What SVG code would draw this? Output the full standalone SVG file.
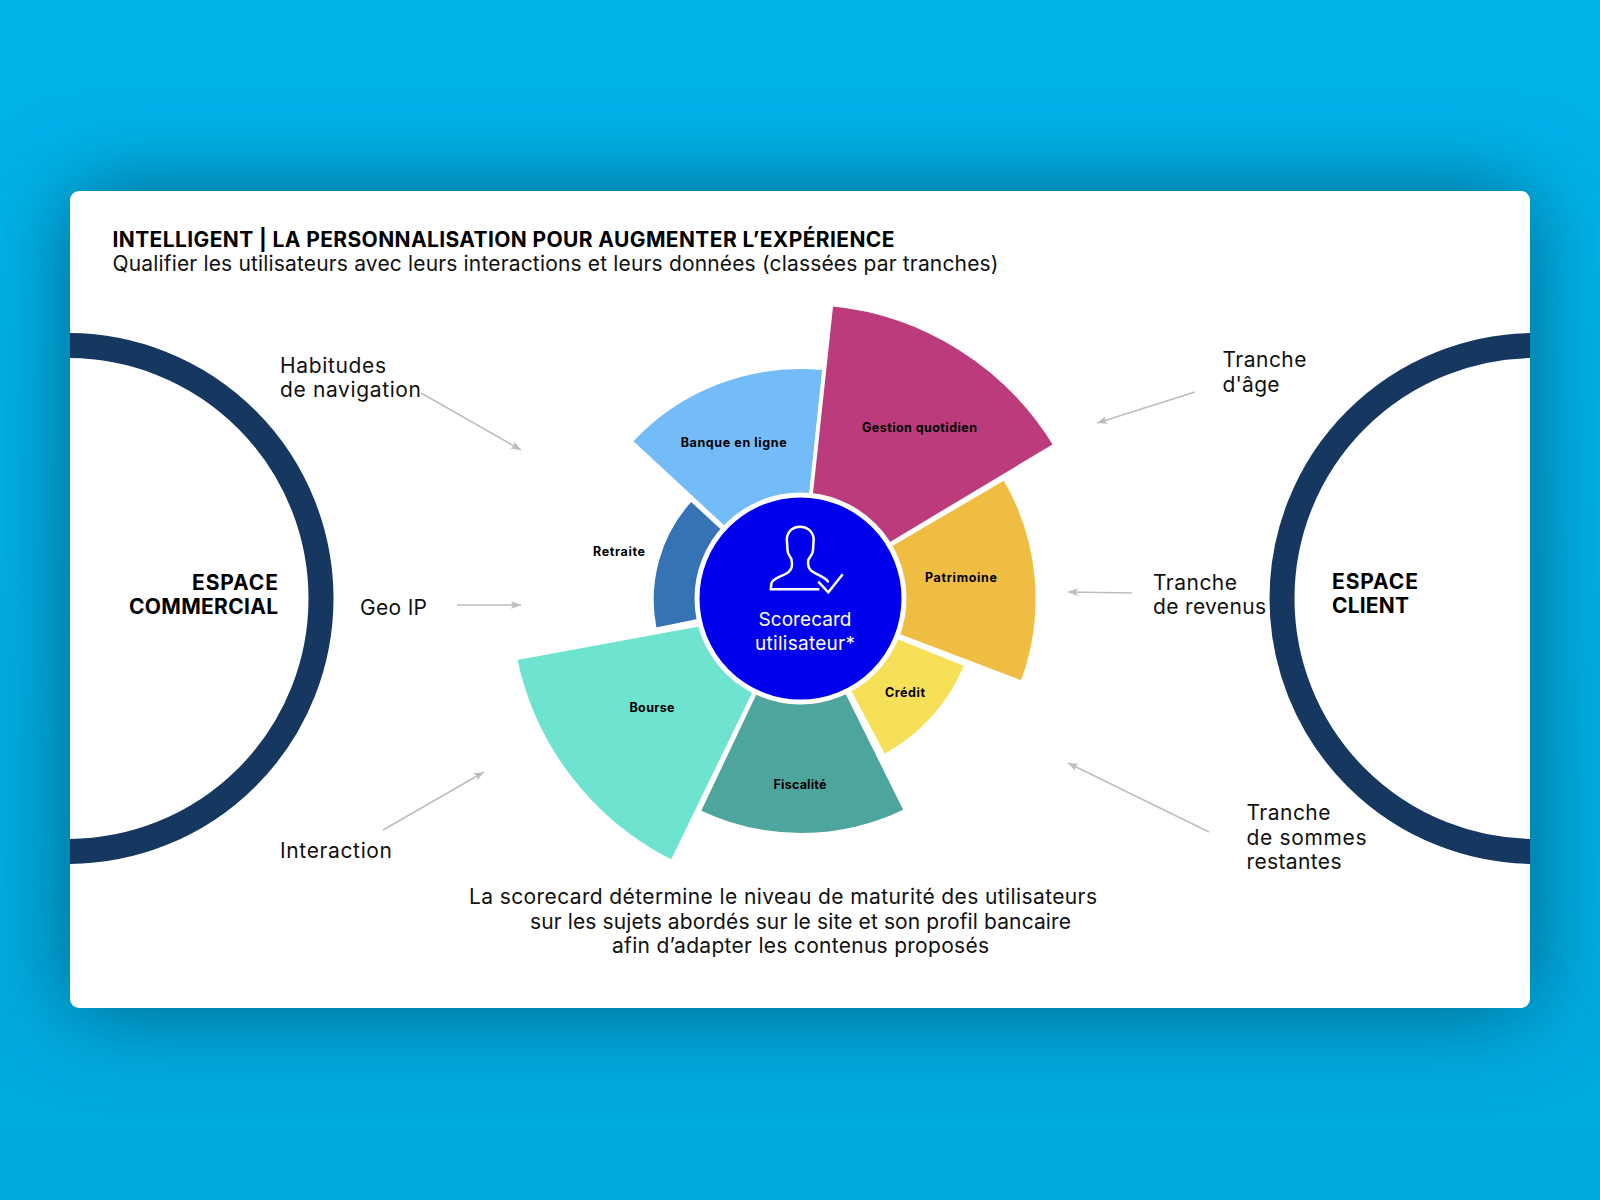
<svg xmlns="http://www.w3.org/2000/svg" width="1600" height="1200" viewBox="0 0 1600 1200">
<style>
text{font-family:"Inter","Open Sans","Liberation Sans",sans-serif;fill:#111;}
.t{font-size:21px;font-weight:400;}
.b{font-size:21px;font-weight:700;fill:#000;}
.w{font-size:12.5px;font-weight:700;fill:#000;text-anchor:middle;}
.c{font-size:19px;font-weight:400;fill:#fff;text-anchor:middle;}
.wedge{stroke:#fff;stroke-width:3.5;stroke-linejoin:miter;}
.ring{fill:none;stroke:#16375f;stroke-width:25;}
.arrow{fill:none;stroke:#bdbdbd;stroke-width:1.5;marker-end:url(#ah);}
</style>
<defs>
<linearGradient id="bg" x1="0" y1="0" x2="0" y2="1"><stop offset="0" stop-color="#00b4ea"/><stop offset="1" stop-color="#00a9dd"/></linearGradient>
<filter id="sh" x="-15%" y="-30%" width="130%" height="160%"><feGaussianBlur stdDeviation="45"/></filter>
<clipPath id="card"><rect x="70" y="191" width="1460" height="817" rx="9"/></clipPath>
<marker id="ah" viewBox="0 0 10 8" refX="10" refY="4" markerWidth="10" markerHeight="8" markerUnits="userSpaceOnUse" orient="auto"><path d="M0 0L10 4L0 8L2 4Z" fill="#bdbdbd"/></marker>
</defs>
<rect width="1600" height="1200" fill="url(#bg)"/>
<rect x="70" y="191" width="1460" height="817" rx="9" fill="#00506e" fill-opacity=".8" filter="url(#sh)"/>
<rect id="card-bg" x="70" y="191" width="1460" height="817" rx="9" fill="#fff"/>
<g id="title">
<text class="b" x="112.500" y="246.500" textLength="782" lengthAdjust="spacing">INTELLIGENT | LA PERSONNALISATION POUR AUGMENTER L’EXPÉRIENCE</text>
<text class="t" x="112.500" y="271" textLength="886" lengthAdjust="spacing">Qualifier les utilisateurs avec leurs interactions et leurs données (classées par tranches)</text>
</g>
<g clip-path="url(#card)">
<g id="espace-commercial-ring"><circle class="ring" cx="68" cy="598.500" r="253"/></g>
<g id="espace-client-ring"><circle class="ring" cx="1535" cy="598.500" r="253"/></g>
</g>
<g id="espace-commercial">
<text class="b" x="278" y="590" text-anchor="end" textLength="86" lengthAdjust="spacing">ESPACE</text>
<text class="b" x="278" y="614" text-anchor="end" textLength="149" lengthAdjust="spacing">COMMERCIAL</text>
</g>
<g id="espace-client">
<text class="b" x="1332" y="589" textLength="86" lengthAdjust="spacing">ESPACE</text>
<text class="b" x="1332" y="613" textLength="77" lengthAdjust="spacing">CLIENT</text>
</g>
<g id="connectors">
<line class="arrow" x1="421" y1="393" x2="521" y2="450"/>
<line class="arrow" x1="457" y1="605" x2="521" y2="605"/>
<line class="arrow" x1="383" y1="830" x2="484" y2="772"/>
<line class="arrow" x1="1195" y1="392" x2="1097" y2="423"/>
<line class="arrow" x1="1132" y1="593" x2="1068" y2="592"/>
<line class="arrow" x1="1209" y1="832" x2="1068" y2="763"/>
</g>
<g id="label-habitudes"><text class="t" x="280" y="372.500" textLength="106" lengthAdjust="spacing">Habitudes</text><text class="t" x="280" y="397" textLength="141" lengthAdjust="spacing">de navigation</text></g>
<g id="label-geoip"><text class="t" x="360" y="615" textLength="67" lengthAdjust="spacing">Geo IP</text></g>
<g id="label-interaction"><text class="t" x="280" y="858" textLength="112" lengthAdjust="spacing">Interaction</text></g>
<g id="label-age"><text class="t" x="1222.500" y="367" textLength="84" lengthAdjust="spacing">Tranche</text><text class="t" x="1222.500" y="391.500" textLength="57" lengthAdjust="spacing">d'âge</text></g>
<g id="label-revenus"><text class="t" x="1153" y="590" textLength="84" lengthAdjust="spacing">Tranche</text><text class="t" x="1153" y="614" textLength="113" lengthAdjust="spacing">de revenus</text></g>
<g id="label-sommes"><text class="t" x="1246.500" y="819.500" textLength="84" lengthAdjust="spacing">Tranche</text><text class="t" x="1246.500" y="844.500" textLength="120" lengthAdjust="spacing">de sommes</text><text class="t" x="1246.500" y="869" textLength="95" lengthAdjust="spacing">restantes</text></g>
<g id="wedge-retraite"><path class="wedge" fill="#3573b5" d="M800 600L655 629.500A148 148 0 0 1 691 499.500Z"/><text class="w" x="619" y="556" textLength="52" lengthAdjust="spacing">Retraite</text></g>
<g id="wedge-banque"><path class="wedge" fill="#73bcf7" d="M800 598L631 441.400A230.500 230.500 0 0 1 824 368.600Z"/><text class="w" x="733.700" y="446.500" textLength="106" lengthAdjust="spacing">Banque en ligne</text></g>
<g id="wedge-gestion"><path class="wedge" fill="#bb3b7c" d="M800 598L831.500 304.500A296 296 0 0 1 1055 445Z"/><text class="w" x="919.500" y="432" textLength="115" lengthAdjust="spacing">Gestion quotidien</text></g>
<g id="wedge-patrimoine"><path class="wedge" fill="#efbd42" d="M800 598L1004.500 478.300A237 237 0 0 1 1022 682.500Z"/><text class="w" x="961" y="582" textLength="72" lengthAdjust="spacing">Patrimoine</text></g>
<g id="wedge-credit"><path class="wedge" fill="#f6e058" d="M800 598L966 665A179 179 0 0 1 884 756Z"/><text class="w" x="905" y="697" textLength="40" lengthAdjust="spacing">Crédit</text></g>
<g id="wedge-fiscalite"><path class="wedge" fill="#4ea59d" d="M800 598L905.500 810.500A237 237 0 0 1 699 811.500Z"/><text class="w" x="800" y="788.500" textLength="53" lengthAdjust="spacing">Fiscalité</text></g>
<g id="wedge-bourse"><path class="wedge" fill="#6ee4d0" d="M800 598L672 861.800A294 294 0 0 1 515.500 658.500L700 624.500Z"/><text class="w" x="652" y="712" textLength="45" lengthAdjust="spacing">Bourse</text></g>
<g id="scorecard">
<circle cx="800.500" cy="598.500" r="103.500" fill="#0000ee" stroke="#fff" stroke-width="5"/>
<path fill="none" stroke="#fff" stroke-width="2.500" stroke-linejoin="round" stroke-linecap="round" d="M770.700 589.300L771.500 583C773 578 783 576 788 572.500C792 569.500 792.500 564 791.500 559.500C790.500 556 787.500 555 787.500 550L786.800 539C787.500 531 793 526.700 800 526.700C807 526.700 813 531 813.700 539L813 550C813 555 809 557 808.300 560C807.500 565 808 569 813 572C818 575 825 577 828 581.500M770.700 589.300H818.300"/>
<path fill="none" stroke="#fff" stroke-width="2.500" d="M818.300 581.700L828.300 592.300L842.700 574.300"/>
<text class="c" x="805" y="626" textLength="93" lengthAdjust="spacing">Scorecard</text>
<text class="c" x="805" y="649.500" textLength="100" lengthAdjust="spacing">utilisateur*</text>
</g>
<g id="conclusion">
<text class="t" x="469" y="904" textLength="628" lengthAdjust="spacing">La scorecard détermine le niveau de maturité des utilisateurs</text>
<text class="t" x="530" y="929" textLength="541" lengthAdjust="spacing">sur les sujets abordés sur le site et son profil bancaire</text>
<text class="t" x="612" y="953" textLength="377" lengthAdjust="spacing">afin d’adapter les contenus proposés</text>
</g>
</svg>
